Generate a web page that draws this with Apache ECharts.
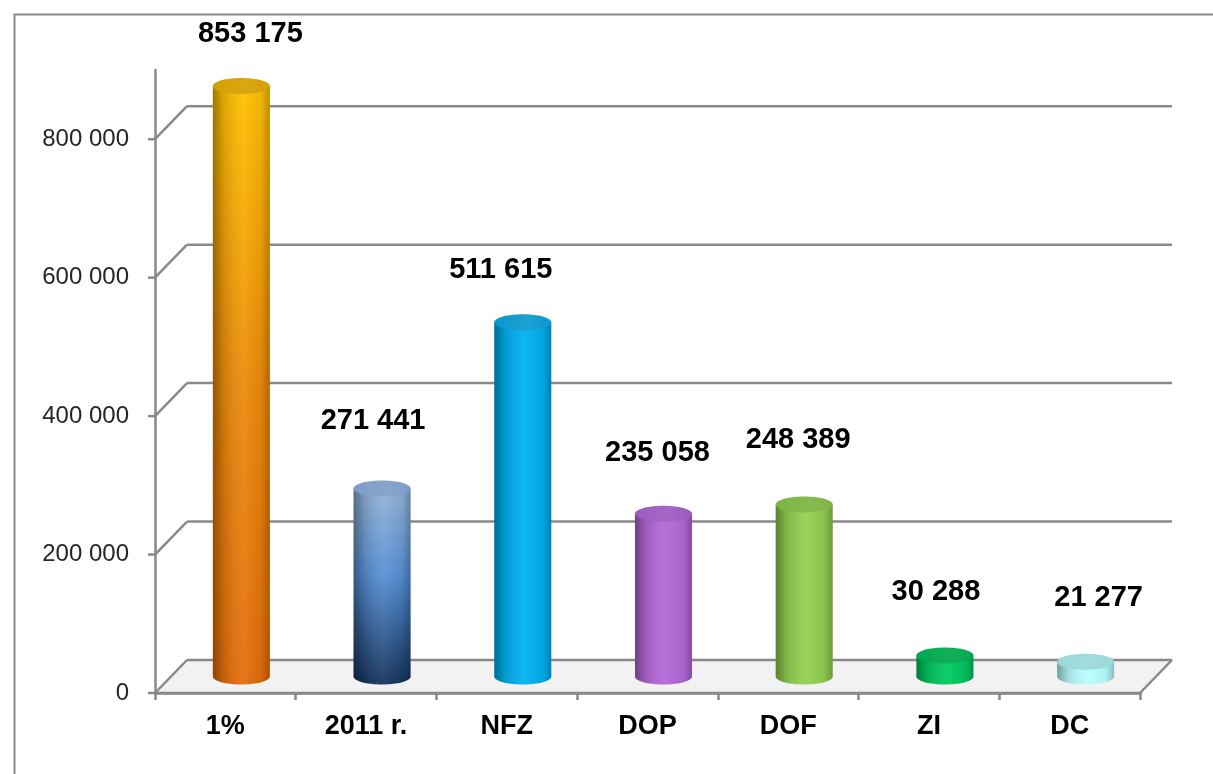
<!DOCTYPE html>
<html>
<head>
<meta charset="utf-8">
<script src="https://cdn.jsdelivr.net/npm/echarts@6/dist/echarts.min.js"></script>
<style>
  html, body { margin: 0; padding: 0; background: #fff; }
  #chart { width: 1213px; height: 774px; }
</style>
</head>
<body>
<div id="chart"></div>
<script>
// categories and values
const categories = ['1%', '2011 r.', 'NFZ', 'DOP', 'DOF', 'ZI', 'DC'];
const values = [853175, 271441, 511615, 235058, 248389, 30288, 21277];
const yTicks = [0, 200000, 400000, 600000, 800000];

// cylinder colours: body gradient stops (top -> bottom) and cap colour
const bodyStops = [
  [[0, '#FFC000'], [0.5, '#EC8A0A'], [1, '#E46C0A']],
  [[0, '#95B3D7'], [0.45, '#558ED5'], [1, '#14325A']],
  [[0, '#00B0F0'], [1, '#00B0F0']],
  [[0, '#B467D8'], [1, '#B467D8']],
  [[0, '#92D050'], [1, '#92D050']],
  [[0, '#00C860'], [1, '#00C860']],
  [[0, '#B8FFFF'], [1, '#B8FFFF']]
];
const capColors = ['#D6A000', '#7E9DC7', '#0A98CF', '#9D5AC2', '#7DB444', '#00A84E', '#9BD8D8'];
// label nudges relative to the cap centre
const labelDx = [9, -9, -22, -6, -6, -9, 13];
const labelDy = [-52, -68, -52, -61, -65, -64, -64];

// 3D depth of the plot (px)
const DX = 32;
const DY = 33;
const RX = 28.5;
const RY = 8;
const LINE = '#898989';

const fmt = v => String(v).replace(/\B(?=(\d{3})+(?!\d))/g, ' ');

function renderFrame(params, api) {
  const cs = params.coordSys;
  const left = cs.x;
  const right = cs.x + cs.width;
  const v = api.value(1);
  const y = api.coord([0, v])[1];
  const ls = { stroke: LINE, lineWidth: 2.5, fill: null };
  const children = [];
  if (v === 0) {
    // floor
    children.push({
      type: 'polygon',
      shape: { points: [[left, y], [right, y], [right + DX, y - DY], [left + DX, y - DY]] },
      style: { fill: '#F2F2F2' }
    });
    children.push({ type: 'line', shape: { x1: left, y1: y, x2: right, y2: y }, style: ls });
    children.push({ type: 'line', shape: { x1: right, y1: y, x2: right + DX, y2: y - DY }, style: ls });
  }
  // tick, side diagonal and back wall line
  children.push({ type: 'line', shape: { x1: left - 7, y1: y, x2: left, y2: y }, style: ls });
  children.push({ type: 'line', shape: { x1: left, y1: y, x2: left + DX, y2: y - DY }, style: ls });
  children.push({ type: 'line', shape: { x1: left + DX, y1: y - DY, x2: right + DX, y2: y - DY }, style: ls });
  return { type: 'group', children };
}

function renderCylinder(params, api) {
  const i = params.dataIndex;
  const base = api.coord([api.value(0), 0]);
  const top = api.coord([api.value(0), api.value(1)]);
  const cx = base[0] + DX / 2;
  const yb = base[1] - DY / 2;
  const yt = top[1] - DY / 2;
  const l = cx - RX;
  const r = cx + RX;
  const k = 0.5523;
  const body = 'M' + l + ' ' + yt + 'L' + l + ' ' + yb +
    'C' + l + ' ' + (yb + k * RY) + ' ' + (cx - k * RX) + ' ' + (yb + RY) + ' ' + cx + ' ' + (yb + RY) +
    'C' + (cx + k * RX) + ' ' + (yb + RY) + ' ' + r + ' ' + (yb + k * RY) + ' ' + r + ' ' + yb +
    'L' + r + ' ' + yt + 'Z';
  const stops = bodyStops[i].map(s => ({ offset: s[0], color: s[1] }));
  return {
    type: 'group',
    children: [
      {
        type: 'path',
        shape: { pathData: body },
        style: { fill: new echarts.graphic.LinearGradient(0, 0, 0, 1, stops) }
      },
      {
        type: 'path',
        shape: { pathData: body },
        style: {
          fill: new echarts.graphic.LinearGradient(0, 0, 1, 0, [
            { offset: 0, color: 'rgba(0,0,0,0.38)' },
            { offset: 0.18, color: 'rgba(0,0,0,0.14)' },
            { offset: 0.55, color: 'rgba(255,255,255,0.06)' },
            { offset: 0.85, color: 'rgba(0,0,0,0.06)' },
            { offset: 1, color: 'rgba(0,0,0,0.26)' }
          ])
        }
      },
      {
        type: 'ellipse',
        shape: { cx: cx, cy: yt, rx: RX, ry: RY },
        style: {
          fill: new echarts.graphic.LinearGradient(0, 0, 1, 0, [
            { offset: 0, color: capColors[i] },
            { offset: 0.6, color: echarts.color.lift(capColors[i], 0.08) },
            { offset: 1, color: capColors[i] }
          ])
        }
      },
      {
        type: 'text',
        x: cx + labelDx[i],
        y: yt + labelDy[i],
        style: {
          text: fmt(api.value(1)),
          fill: '#000',
          font: 'bold 29px "Liberation Sans", Arial, sans-serif',
          align: 'center',
          verticalAlign: 'middle'
        }
      }
    ]
  };
}

const chart = echarts.init(document.getElementById('chart'));

chart.setOption({
  backgroundColor: '#fff',
  animation: false,
  graphic: [
    {
      type: 'rect',
      left: 12,
      top: 12,
      shape: { width: 1400, height: 1000 },
      style: { fill: null, stroke: LINE, lineWidth: 2 },
      silent: true
    }
  ],
  grid: {
    left: 155,
    right: 73,
    top: 70,
    bottom: 81,
    containLabel: false,
    outerBoundsMode: 'none'
  },
  xAxis: {
    type: 'category',
    data: categories,
    axisLine: { show: true, lineStyle: { color: LINE, width: 2.5 } },
    axisTick: { show: true, length: 7, lineStyle: { color: LINE, width: 2.5 } },
    axisLabel: {
      margin: 20,
      color: '#000',
      fontSize: 27,
      fontWeight: 'bold',
      fontFamily: '"Liberation Sans", Arial, sans-serif'
    }
  },
  yAxis: {
    type: 'value',
    min: 0,
    max: 900000,
    interval: 200000,
    axisLine: { show: true, lineStyle: { color: LINE, width: 2.5 } },
    axisTick: { show: false },
    splitLine: { show: false },
    axisLabel: {
      showMaxLabel: false,
      margin: 26,
      color: '#262626',
      fontSize: 24,
      fontFamily: '"Liberation Sans", Arial, sans-serif',
      formatter: v => fmt(v)
    }
  },
  series: [
    {
      type: 'custom',
      name: 'frame',
      silent: true,
      clip: false,
      z: 1,
      renderItem: renderFrame,
      data: yTicks.map(v => [0, v])
    },
    {
      type: 'custom',
      name: 'bars',
      clip: false,
      z: 3,
      renderItem: renderCylinder,
      data: values.map((v, i) => [i, v])
    }
  ]
});
</script>
</body>
</html>
